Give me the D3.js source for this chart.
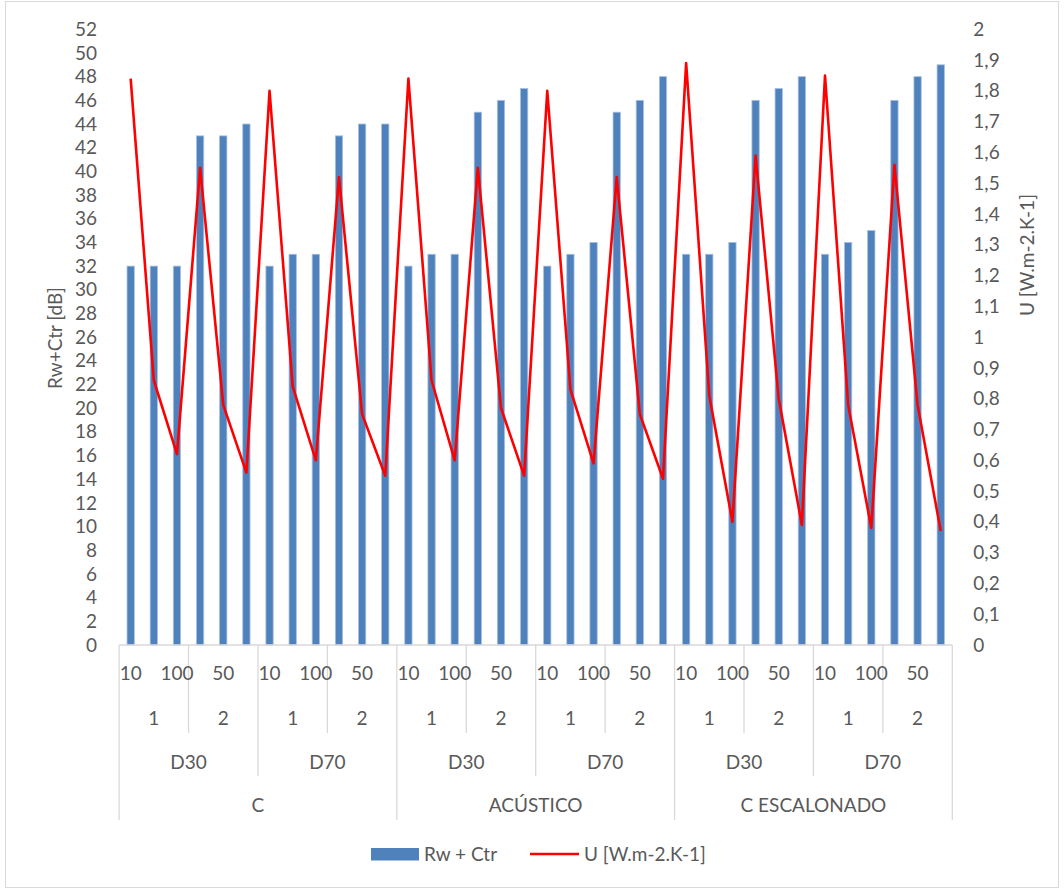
<!DOCTYPE html>
<html>
<head>
<meta charset="utf-8">
<script src="https://cdn.jsdelivr.net/npm/d3@7"></script>
<style>
  html, body { margin: 0; padding: 0; background: #fff; }
  svg { display: block; }
  text { font-family: Lato, "Open Sans", sans-serif; fill: #595959; }
</style>
</head>
<body>
<svg id="chart" width="1064" height="890"></svg>
<script>
// Category hierarchy (outer to inner)
const systems = ["C", "ACÚSTICO", "C ESCALONADO"];
const depths = ["D30", "D70"];
const layers = ["1", "2"];
const spacings = ["10", "50", "100"];

// Rw + Ctr [dB], one value per bar
const rwCtr = [
  32, 32, 32, 43, 43, 44,
  32, 33, 33, 43, 44, 44,
  32, 33, 33, 45, 46, 47,
  32, 33, 34, 45, 46, 48,
  33, 33, 34, 46, 47, 48,
  33, 34, 35, 46, 48, 49
];

// U [W.m-2.K-1], one value per bar
const uValue = [
  1.84, 0.86, 0.62, 1.55, 0.78, 0.56,
  1.80, 0.84, 0.60, 1.52, 0.75, 0.55,
  1.84, 0.86, 0.60, 1.55, 0.77, 0.55,
  1.80, 0.83, 0.59, 1.52, 0.75, 0.54,
  1.89, 0.81, 0.40, 1.59, 0.80, 0.39,
  1.85, 0.78, 0.38, 1.56, 0.78, 0.37
];

const leftTicks = d3.range(0, 53, 2);
const rightTicks = d3.range(0, 21).map(d => d / 10);

const seriesNames = ["Rw + Ctr", "U [W.m-2.K-1]"];
const axisTitles = ["Rw+Ctr [dB]", "U [W.m-2.K-1]"];

// Flattened category list
const cats = [];
systems.forEach(s => depths.forEach(d => layers.forEach(l => spacings.forEach(sp => {
  cats.push({ system: s, depth: d, layer: l, spacing: sp });
}))));
cats.forEach((c, i) => { c.i = i; c.rw = rwCtr[i]; c.u = uValue[i]; });

const svg = d3.select("#chart");
const plot = { left: 119.1, right: 952.3, top: 29.3, bottom: 645 };
const grey = "#d9d9d9";
const fs = 19;

// Outer chart frame
svg.append("rect")
  .attr("x", 5.5).attr("y", 1.5).attr("width", 1053).attr("height", 886)
  .attr("fill", "#fff").attr("stroke", grey).attr("stroke-width", 1);

const x = d3.scaleBand()
  .domain(cats.map(c => c.i))
  .range([plot.left, plot.right])
  .paddingInner(0.685)
  .paddingOuter(0.3425);
const step = x.step();
const cx = i => x(i) + x.bandwidth() / 2;

const yL = d3.scaleLinear().domain([0, 52]).range([plot.bottom, plot.top]);
const yR = d3.scaleLinear().domain([0, 2]).range([plot.bottom, plot.top]);

const comma = v => d3.format("~g")(v).replace(".", ",");

// Left axis (labels only)
const gL = svg.append("g").attr("transform", `translate(${plot.left - 22},0)`)
  .call(d3.axisLeft(yL).tickValues(leftTicks).tickSize(0).tickPadding(0));
gL.select(".domain").remove();
gL.selectAll("text").attr("font-size", fs).attr("fill", "#595959")
  .style("font-family", "Lato, 'Open Sans', sans-serif");

// Right axis (labels only)
const gR = svg.append("g").attr("transform", `translate(${plot.right + 21},0)`)
  .call(d3.axisRight(yR).tickValues(rightTicks).tickFormat(comma).tickSize(0).tickPadding(0));
gR.select(".domain").remove();
gR.selectAll("text").attr("font-size", fs).attr("fill", "#595959")
  .style("font-family", "Lato, 'Open Sans', sans-serif");

// Axis titles
svg.append("text")
  .attr("transform", `translate(62,338) rotate(-90)`)
  .attr("text-anchor", "middle").attr("font-size", fs)
  .text(axisTitles[0]);
svg.append("text")
  .attr("transform", `translate(1034,255) rotate(-90)`)
  .attr("text-anchor", "middle").attr("font-size", fs)
  .text(axisTitles[1]);

// Bars
svg.append("g").selectAll("rect").data(cats).join("rect")
  .attr("x", d => x(d.i))
  .attr("y", d => yL(d.rw))
  .attr("width", x.bandwidth())
  .attr("height", d => yL(0) - yL(d.rw))
  .attr("fill", "#4f81bd")
  .attr("stroke", "#a7c0e0").attr("stroke-width", 0.8);

// Category axis line
svg.append("line")
  .attr("x1", plot.left).attr("x2", plot.right)
  .attr("y1", plot.bottom).attr("y2", plot.bottom)
  .attr("stroke", grey).attr("stroke-width", 1.3);

// Multi-level category separators
const sepLevels = [
  { every: 3, to: 733 },
  { every: 6, to: 776 },
  { every: 12, to: 820 }
];
const sepG = svg.append("g").attr("stroke", grey).attr("stroke-width", 1.3);
for (let k = 0; k <= cats.length; k++) {
  let bottom = null;
  sepLevels.forEach(l => { if (k % l.every === 0) bottom = l.to; });
  if (bottom === null) continue;
  const xx = plot.left + k * step;
  sepG.append("line").attr("x1", xx).attr("x2", xx)
    .attr("y1", plot.bottom).attr("y2", bottom);
}

// Category labels
const lab = svg.append("g").attr("font-size", fs).attr("text-anchor", "middle");
// innermost: every other label is shown
cats.filter(c => c.i % 2 === 0).forEach(c => {
  lab.append("text").attr("x", cx(c.i)).attr("y", 680).text(c.spacing);
});
function groupLabels(size, key, y) {
  for (let s = 0; s < cats.length; s += size) {
    const mid = plot.left + (s + size / 2) * step;
    lab.append("text").attr("x", mid).attr("y", y).text(cats[s][key]);
  }
}
groupLabels(3, "layer", 725);
groupLabels(6, "depth", 769);
groupLabels(12, "system", 812);

// U line
const line = d3.line().x(d => cx(d.i)).y(d => yR(d.u));
svg.append("path").datum(cats)
  .attr("d", line)
  .attr("fill", "none")
  .attr("stroke", "#ff0000")
  .attr("stroke-width", 2.6)
  .attr("stroke-linejoin", "round");

// Legend
const leg = svg.append("g").attr("font-size", fs);
leg.append("rect").attr("x", 371).attr("y", 848).attr("width", 48).attr("height", 12.5)
  .attr("fill", "#4f81bd");
leg.append("text").attr("x", 424).attr("y", 861).text(seriesNames[0]);
leg.append("line").attr("x1", 530).attr("x2", 579).attr("y1", 854).attr("y2", 854)
  .attr("stroke", "#ff0000").attr("stroke-width", 2.6);
leg.append("text").attr("x", 584).attr("y", 861).text(seriesNames[1]);
</script>
</body>
</html>
